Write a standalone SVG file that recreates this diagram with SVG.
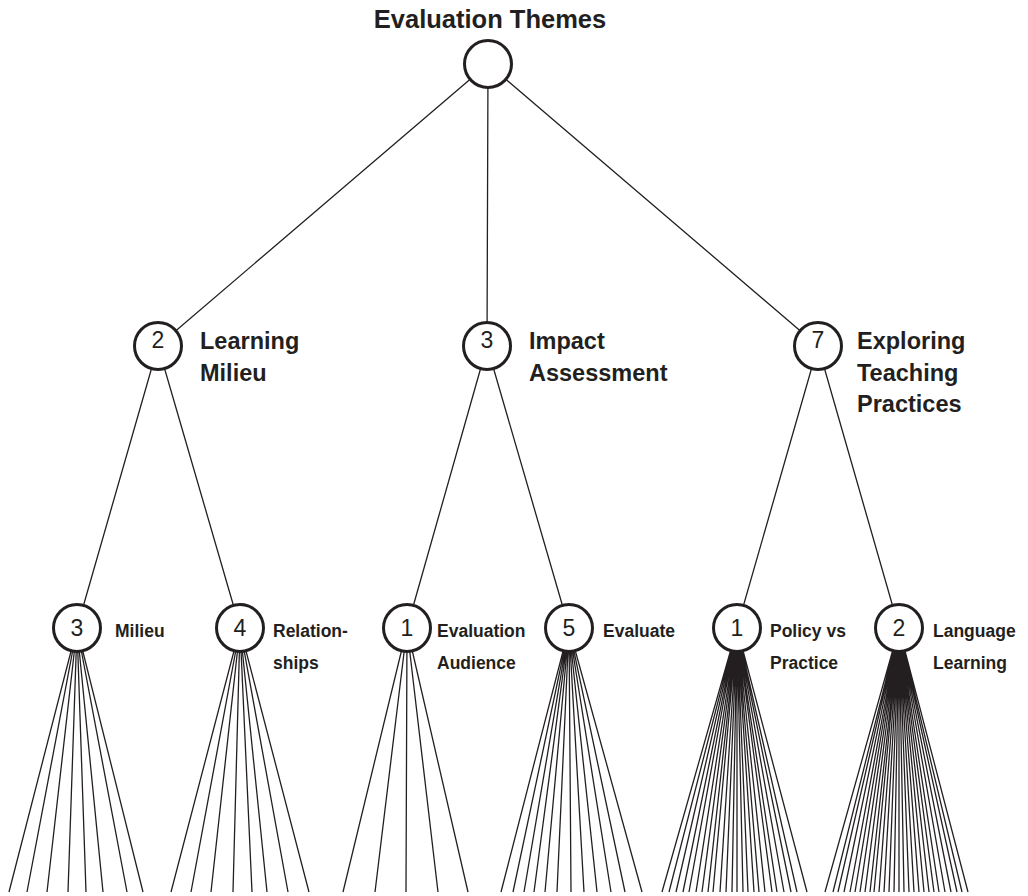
<svg xmlns="http://www.w3.org/2000/svg" width="1028" height="896" viewBox="0 0 1028 896">
<style>
.bg{fill:#fff}
.e{stroke:#231f20;stroke-width:1.3;fill:none}
.n{fill:#fff;stroke:#231f20;stroke-width:3}
.num{font-family:"Liberation Sans",Arial,sans-serif;fill:#231f20;text-anchor:middle}
.l2{font-family:"Liberation Sans",Arial,sans-serif;font-weight:bold;font-size:23.5px;fill:#231f20}
.l3{font-family:"Liberation Sans",Arial,sans-serif;font-weight:bold;font-size:17.5px;fill:#231f20}
.t{font-family:"Liberation Sans",Arial,sans-serif;font-weight:bold;font-size:25.5px;fill:#231f20;text-anchor:middle}
</style>
<rect class="bg" width="1028" height="896"/>
<g id="connectors">
<path class="e" d="M488 64L158 346M488 64L487 346M488 64L818 346"/>
<path class="e" d="M158 346L77 628M158 346L240 628M487 346L407 628M487 346L569 628M818 346L737 628M818 346L899 628"/>
<g id="fan-milieu">
<path class="e" d="M77 628L9 892M77 628L27 892M77 628L47 892M77 628L68 892M77 628L86 892M77 628L103 892M77 628L127 892M77 628L143 892"/>
</g>
<g id="fan-relationships">
<path class="e" d="M240 628L171 892M240 628L191 892M240 628L211 892M240 628L233 892M240 628L252 892M240 628L267 892M240 628L288 892M240 628L309 892"/>
</g>
<g id="fan-audience">
<path class="e" d="M407 628L343 892M407 628L375 892M407 628L406 892M407 628L438 892M407 628L468 892"/>
</g>
<g id="fan-evaluate">
<path class="e" d="M569 628L501 892M569 628L513 892M569 628L524 892M569 628L534 892M569 628L545 892M569 628L557 892M569 628L571 892M569 628L584 892M569 628L597 892M569 628L611 892M569 628L625 892M569 628L642 892"/>
</g>
<g id="fan-policy">
<path class="e" d="M737 628L662 892M737 628L669 892M737 628L676 892M737 628L683 892M737 628L689 892M737 628L696 892M737 628L702 892M737 628L708 892M737 628L713 892M737 628L720 892M737 628L726 892M737 628L732 892M737 628L737 892M737 628L743 892M737 628L748 892M737 628L754 892M737 628L759 892M737 628L765 892M737 628L772 892M737 628L777 892M737 628L784 892M737 628L791 892M737 628L797 892M737 628L807 892"/>
</g>
<g id="fan-language">
<path class="e" d="M899 628L825 892M899 628L833 892M899 628L838 892M899 628L844 892M899 628L850 892M899 628L855 892M899 628L860 892M899 628L865 892M899 628L870 892M899 628L874 892M899 628L879 892M899 628L884 892M899 628L889 892M899 628L894 892M899 628L899 892M899 628L904 892M899 628L909 892M899 628L914 892M899 628L919 892M899 628L924 892M899 628L929 892M899 628L934 892M899 628L939 892M899 628L945 892M899 628L951 892M899 628L957 892M899 628L962 892M899 628L968 892"/>
</g>
</g>
<g id="root">
<text class="t" x="490" y="28">Evaluation Themes</text>
<circle class="n" cx="488" cy="64" r="23.5"/>
</g>
<g id="n-learning-milieu">
<circle class="n" cx="158" cy="346" r="23.5"/>
<text class="num" x="158" y="348" font-size="23">2</text>
<text class="l2" x="200" y="349">Learning</text>
<text class="l2" x="200" y="381">Milieu</text>
</g>
<g id="n-impact">
<circle class="n" cx="487" cy="346" r="23.5"/>
<text class="num" x="487" y="348" font-size="23">3</text>
<text class="l2" x="529" y="349">Impact</text>
<text class="l2" x="529" y="381">Assessment</text>
</g>
<g id="n-exploring">
<circle class="n" cx="818" cy="346" r="23.5"/>
<text class="num" x="818" y="348" font-size="23">7</text>
<text class="l2" x="857" y="349">Exploring</text>
<text class="l2" x="857" y="381">Teaching</text>
<text class="l2" x="857" y="412">Practices</text>
</g>
<g id="n-milieu">
<circle class="n" cx="77" cy="628" r="23.5"/>
<text class="num" x="77" y="636" font-size="23">3</text>
<text class="l3" x="115" y="637">Milieu</text>
</g>
<g id="n-relationships">
<circle class="n" cx="240" cy="628" r="23.5"/>
<text class="num" x="240" y="636" font-size="23">4</text>
<text class="l3" x="273" y="637">Relation-</text>
<text class="l3" x="273" y="669">ships</text>
</g>
<g id="n-audience">
<circle class="n" cx="407" cy="628" r="23.5"/>
<text class="num" x="407" y="636" font-size="23">1</text>
<text class="l3" x="437" y="637">Evaluation</text>
<text class="l3" x="437" y="669">Audience</text>
</g>
<g id="n-evaluate">
<circle class="n" cx="569" cy="628" r="23.5"/>
<text class="num" x="569" y="636" font-size="23">5</text>
<text class="l3" x="603" y="637">Evaluate</text>
</g>
<g id="n-policy">
<circle class="n" cx="737" cy="628" r="23.5"/>
<text class="num" x="737" y="636" font-size="23">1</text>
<text class="l3" x="770" y="637">Policy vs</text>
<text class="l3" x="770" y="669">Practice</text>
</g>
<g id="n-language">
<circle class="n" cx="899" cy="628" r="23.5"/>
<text class="num" x="899" y="636" font-size="23">2</text>
<text class="l3" x="933" y="637">Language</text>
<text class="l3" x="933" y="669">Learning</text>
</g>
</svg>
